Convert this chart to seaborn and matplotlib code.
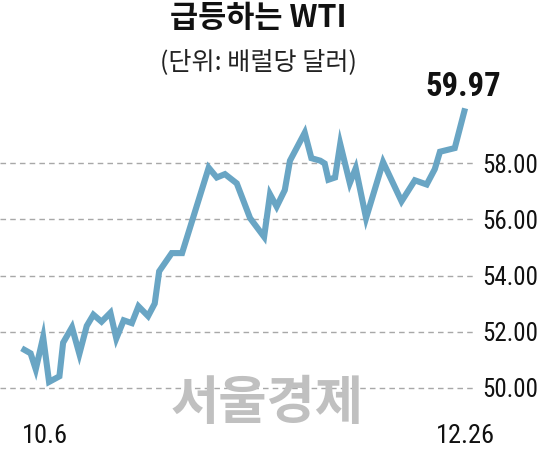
import matplotlib
matplotlib.use("Agg")
import matplotlib.pyplot as plt
import matplotlib.font_manager as fm
import seaborn as sns
import pandas as pd

# ---- data ----
day = [0, 1.2, 1.9, 2.9, 3.7, 5.1, 5.6, 6.8, 7.8, 8.8, 9.7, 10.8, 12.0, 12.8,
       13.8, 14.9, 15.8, 17.1, 18.0, 18.6, 20.3, 21.7, 25.3, 26.4, 27.5, 29.1,
       30.9, 32.8, 33.6, 34.5, 35.6, 36.3, 38.3, 39.2, 40.4, 41.0, 41.5, 42.4,
       43.1, 44.4, 45.2, 46.6, 48.9, 51.4, 53.2, 54.8, 55.9, 56.6, 58.6, 60.0]
price = [51.40, 51.22, 50.65, 51.80, 50.20, 50.40, 51.60, 52.15, 51.20, 52.20,
         52.60, 52.35, 52.67, 51.75, 52.40, 52.30, 52.90, 52.55, 53.00, 54.15,
         54.80, 54.80, 57.85, 57.50, 57.62, 57.29, 56.05, 55.38, 56.90, 56.46,
         57.05, 58.10, 59.10, 58.19, 58.10, 58.00, 57.42, 57.50, 58.70, 57.30,
         57.83, 56.05, 58.05, 56.65, 57.40, 57.25, 57.80, 58.42, 58.55, 59.97]
y_ticks = [50, 52, 54, 56, 58]
x_labels = ["10.6", "12.26"]
title = "급등하는 WTI"
subtitle = "(단위: 배럴당 달러)"
watermark = "서울경제"

df = pd.DataFrame({"day": day, "price": price})

sns.set_style("white")

# pick a narrow latin font if one is installed
fonts = fm.fontManager.ttflist
names = {f.name for f in fonts}
narrow = {"family": ["Liberation Sans", "DejaVu Sans"]}
if "Roboto Condensed" in names:
    narrow = {"family": ["Roboto Condensed", "DejaVu Sans"]}
elif "Liberation Sans Narrow" in names:
    narrow = {"family": ["Liberation Sans Narrow", "DejaVu Sans"]}
elif any(f.name == "DejaVu Sans" and "condensed" in str(f.stretch) for f in fonts):
    narrow = {"family": ["DejaVu Sans"], "stretch": "condensed"}

cjk = ["Noto Sans CJK KR", "DejaVu Sans"]
plt.rcParams["font.family"] = narrow["family"]
if "stretch" in narrow:
    plt.rcParams["font.stretch"] = narrow["stretch"]

fig = plt.figure(figsize=(5.40, 4.54), dpi=100)
ax = fig.add_axes([0.0, 54 / 454, 475 / 540, 305 / 454])

sns.lineplot(data=df, x="day", y="price", ax=ax, color="#69a5c4",
             linewidth=4.4, solid_joinstyle="miter", solid_capstyle="butt", zorder=3)

ax.set_xlim(-2.94, 61.34)
ax.set_ylim(49.554, 60.446)

for v in y_ticks:
    ax.axhline(v, color="#a8a8a8", linewidth=1.0, linestyle=(0, (4, 3)), zorder=1)
ax.grid(False)
for s in ax.spines.values():
    s.set_visible(False)

ax.yaxis.tick_right()
ax.set_yticks(y_ticks)
ax.set_yticklabels([f"{v:.2f}" for v in y_ticks])
ax.tick_params(axis="y", length=0, pad=5.5, labelsize=18, labelcolor="#111111")

ax.set_xticks([day[0], day[-1]])
ax.set_xticklabels(x_labels)
ax.tick_params(axis="x", length=0, pad=17, labelsize=19, labelcolor="#111111")
ax.set_xlabel("")
ax.set_ylabel("")
xl = ax.get_xticklabels()
xl[0].set_ha("left")
xl[1].set_ha("center")

end_lbl = ax.annotate(f"{price[-1]:.2f}", xy=(day[-1], price[-1]), xytext=(-1, 4),
                      textcoords="offset points", ha="center", va="bottom",
                      fontsize=23.5, fontweight="bold", color="#111111")

t1 = fig.text(0.478, 0.961, title, ha="center", va="center", fontsize=21.5,
              fontweight="bold", family=cjk, color="#111111")
t2 = fig.text(0.478, 0.864, subtitle, ha="center", va="center", fontsize=16,
              family=cjk, color="#222222")
wm = fig.text(0.494, 0.112, watermark, ha="center", va="center", fontsize=33,
              fontweight="bold", family=cjk, color="#c0c0c0", zorder=0)


def fit(txt, target_w):
    fig.canvas.draw()
    w = txt.get_window_extent().width
    if w > 0:
        txt.set_fontsize(txt.get_fontsize() * target_w / w)


fit(t1, 177)
fit(t2, 197)
fit(wm, 193)

fig.savefig("out.png", dpi=100, facecolor="white")
